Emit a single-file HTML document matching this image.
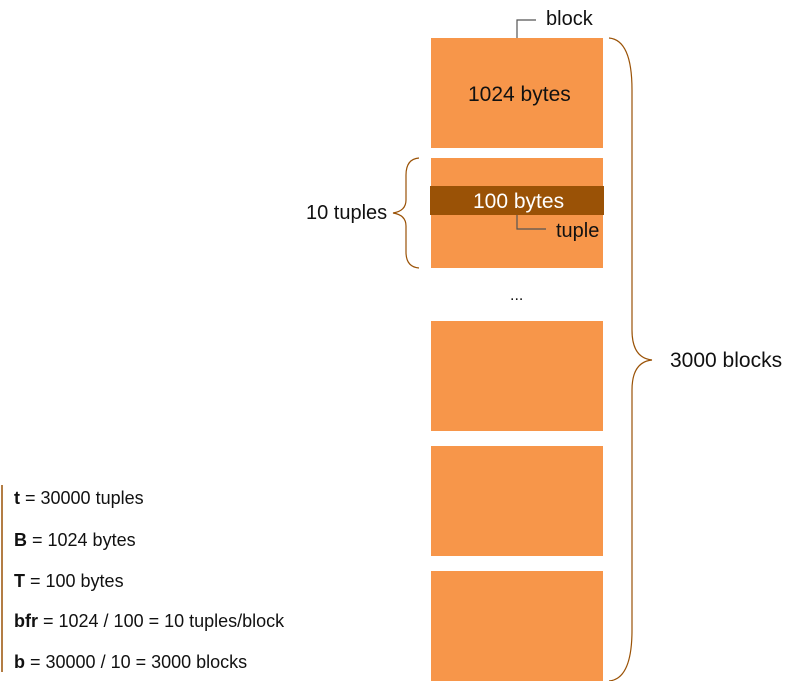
<!DOCTYPE html>
<html><head><meta charset="utf-8"><style>
body{margin:0;background:#fff;width:792px;height:681px;overflow:hidden;position:relative;font-family:"Liberation Sans Narrow","Liberation Sans",sans-serif;}
.t{position:absolute;white-space:nowrap;color:#111;}
</style></head><body>
<svg width="792" height="681" style="position:absolute;left:0;top:0">
<g fill="#f7964a">
<rect x="431" y="38" width="172" height="110"/>
<rect x="431" y="158" width="172" height="110"/>
<rect x="431" y="321" width="172" height="110"/>
<rect x="431" y="446" width="172" height="110"/>
<rect x="431" y="571" width="172" height="110"/>
</g>
<rect x="430" y="186" width="174" height="29" fill="#9a5206"/>
<g fill="none" stroke="#555" stroke-width="1.2">
<path d="M517 38 V20 H536"/>
<path d="M517 215 V229 H546"/>
</g>
<g fill="none" stroke="#9a5206" stroke-width="1.2">
<path d="M609 38 Q632 40 632 90 V330 Q632 358 652 360 Q632 362 632 390 V630 Q632 679 609 681"/>
<path d="M419 158 Q406 159 406 175 V200 Q406 211 393 213 Q406 215 406 226 V252 Q406 267 419 268"/>
<path d="M2 485 V672" stroke-width="1.5"/>
</g>
</svg>
<div class="t" style="left:546px;top:8px;font-size:20px">block</div>
<div class="t" style="left:468px;top:83px;font-size:21px">1024 bytes</div>
<div class="t" style="left:473px;top:190px;font-size:21px;color:#fff">100 bytes</div>
<div class="t" style="left:556px;top:220px;font-size:20px">tuple</div>
<div class="t" style="left:306px;top:202px;font-size:20px">10 tuples</div>
<div class="t" style="left:510px;top:287px;font-size:16px">...</div>
<div class="t" style="left:670px;top:349px;font-size:21px">3000 blocks</div>
<div class="t" style="left:14px;top:488px;font-size:18px"><b>t</b> = 30000 tuples</div>
<div class="t" style="left:14px;top:530px;font-size:18px"><b>B</b> = 1024 bytes</div>
<div class="t" style="left:14px;top:571px;font-size:18px"><b>T</b> = 100 bytes</div>
<div class="t" style="left:14px;top:611px;font-size:18px"><b>bfr</b> = 1024 / 100 = 10 tuples/block</div>
<div class="t" style="left:14px;top:652px;font-size:18px"><b>b</b> = 30000 / 10 = 3000 blocks</div>
</body></html>
